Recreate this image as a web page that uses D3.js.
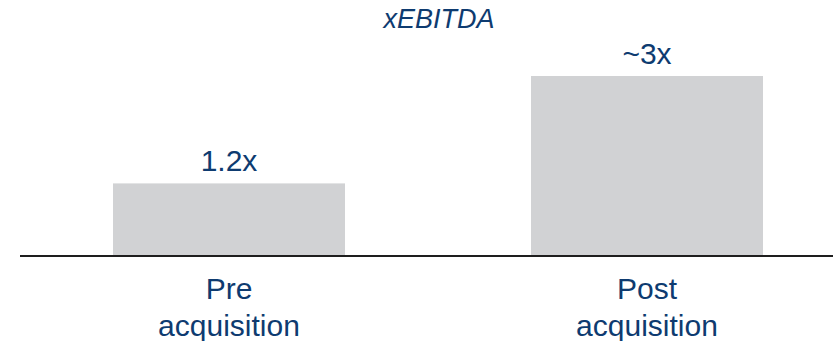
<!DOCTYPE html>
<meta charset="utf-8">
<style type="text/css">
body {
  margin: 0;
  background: #ffffff;
}
svg text {
  font-family: "Liberation Sans", Arial, sans-serif;
  fill: #0e3b70;
}
.bar {
  fill: #d1d2d4;
}
.baseline {
  stroke: #1e1e1e;
  stroke-width: 2px;
}
</style>
<head>
  <script src="https://cdnjs.cloudflare.com/ajax/libs/d3/7.8.5/d3.min.js"></script>
</head>
<body>
<div class="g-chart"></div>
<script type="text/javascript">

// data
var categories = [["Pre", "acquisition"], ["Post", "acquisition"]];
var values = [1.2, 3];
var valueLabels = ["1.2x", "~3x"];
var unitLabel = "xEBITDA";

var width = 833, height = 341;

var svg = d3.select(".g-chart").append("svg")
  .attr("width", width)
  .attr("height", height);

//x scale, one band per category
var x = d3.scaleBand()
  .domain(categories.map(function(d, i) { return i; }))
  .range([20, 856])
  .paddingInner(0.445)
  .paddingOuter(0.2225);

//y scale
var y = d3.scaleLinear()
  .domain([0, 3])
  .range([255, 76]);

//unit subtitle
svg.append("text")
  .attr("x", 439)
  .attr("y", 28)
  .attr("text-anchor", "middle")
  .style("font-size", "27px")
  .style("font-style", "italic")
  .text(unitLabel);

//bars
svg.selectAll("rect.bar")
  .data(values)
  .enter().append("rect")
  .attr("class", "bar")
  .attr("x", function(d, i) { return x(i); })
  .attr("width", x.bandwidth())
  .attr("y", function(d) { return y(d); })
  .attr("height", function(d) { return y(0) - y(d); });

//value labels
svg.selectAll("text.value")
  .data(values)
  .enter().append("text")
  .attr("class", "value")
  .attr("x", function(d, i) { return x(i) + x.bandwidth() / 2; })
  .attr("y", function(d) { return y(d) - 12; })
  .attr("text-anchor", "middle")
  .style("font-size", "30px")
  .text(function(d, i) { return valueLabels[i]; });

//axis line
svg.append("line")
  .attr("class", "baseline")
  .attr("x1", 20)
  .attr("x2", width)
  .attr("y1", y(0) + 1)
  .attr("y2", y(0) + 1);

//category labels
var cat = svg.selectAll("text.cat")
  .data(categories)
  .enter().append("text")
  .attr("class", "cat")
  .attr("text-anchor", "middle")
  .style("font-size", "30px");

cat.selectAll("tspan")
  .data(function(d, i) { return d.map(function(t) { return {t: t, i: i}; }); })
  .enter().append("tspan")
  .attr("x", function(d) { return x(d.i) + x.bandwidth() / 2; })
  .attr("y", function(d, j) { return 299 + j * 37; })
  .text(function(d) { return d.t; });

</script>
</body>
